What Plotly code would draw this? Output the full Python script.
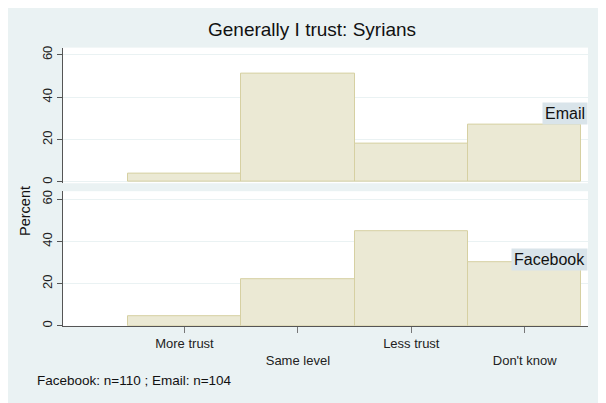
import plotly.graph_objects as go

categories = ["More trust", "Same level", "Less trust", "Don't know"]
cat_pos = [1, 2, 3, 4]
email_pct = [3.8, 51.0, 18.3, 26.9]
facebook_pct = [4.4, 22.0, 44.8, 30.0]
y_ticks = [0, 20, 40, 60]
tick_text = ["More trust", "<br>Same level", "Less trust", "<br>Don't know"]

BG = "#eaf2f3"
BAR_FILL = "#ebe9d4"
BAR_LINE = "#d6d0a2"
STRIP = "#d9e4ea"
FONT = "Liberation Sans, Arial, sans-serif"

W, H = 606, 403
OFF = 8  # page body margin in the browser

def px(x):
    return (x - OFF) / W

def py(y):
    return 1 - (y - OFF) / H

fig = go.Figure()
fig.add_trace(go.Bar(x=cat_pos, y=email_pct, width=1, xaxis="x", yaxis="y",
                     marker=dict(color=BAR_FILL, line=dict(color=BAR_LINE, width=1)),
                     name="Email", showlegend=False))
fig.add_trace(go.Bar(x=cat_pos, y=facebook_pct, width=1, xaxis="x2", yaxis="y2",
                     marker=dict(color=BAR_FILL, line=dict(color=BAR_LINE, width=1)),
                     name="Facebook", showlegend=False))

xrange = [-0.071, 4.558]
yaxis_common = dict(tickvals=y_ticks, tickangle=-90, ticks="outside", ticklen=5,
                    tickcolor="#555", showline=True, linecolor="#555", linewidth=1,
                    showgrid=True, gridcolor=BG, gridwidth=1, zeroline=False,
                    tickfont=dict(family=FONT, size=13, color="#222"))

fig.update_layout(
    width=W, height=H,
    margin=dict(l=0, r=0, t=0, b=0),
    paper_bgcolor=BG, plot_bgcolor="white",
    bargap=0,
    font=dict(family=FONT, color="#222"),
    xaxis=dict(domain=[px(63), px(588)], range=xrange, anchor="y",
               showticklabels=False, ticks="", showline=False, showgrid=False,
               zeroline=False),
    yaxis=dict(domain=[py(183), py(46)], range=[-0.6, 63.4], anchor="x", **yaxis_common),
    xaxis2=dict(domain=[px(63), px(588)], range=xrange, anchor="y2",
                tickvals=cat_pos, ticktext=tick_text, ticks="outside", ticklen=6,
                tickcolor="#777", showline=True, linecolor="#555", linewidth=1,
                showgrid=False, zeroline=False, tickangle=0,
                tickfont=dict(family=FONT, size=13, color="#222")),
    yaxis2=dict(domain=[py(327), py(191)], range=[0, 63.8], anchor="x2", **yaxis_common),
)

fig.add_annotation(text="Generally I trust: Syrians", xref="paper", yref="paper",
                   x=px(312), y=py(28), xanchor="center", yanchor="middle",
                   showarrow=False, font=dict(family=FONT, size=19, color="#111"))
fig.add_annotation(text="Percent", xref="paper", yref="paper",
                   x=px(25), y=py(211), textangle=-90, xanchor="center", yanchor="middle",
                   showarrow=False, font=dict(family=FONT, size=14.5, color="#111"))
fig.add_annotation(text="Facebook: n=110 ; Email: n=104", xref="paper", yref="paper",
                   x=px(35), y=py(382), xanchor="left", yanchor="middle",
                   showarrow=False, font=dict(family=FONT, size=13.5, color="#111"))
fig.add_annotation(text="Email", xref="paper", yref="paper",
                   x=px(588), y=py(113), xanchor="right", yanchor="middle",
                   showarrow=False, bgcolor=STRIP, borderpad=2,
                   font=dict(family=FONT, size=16, color="#111"))
fig.add_annotation(text="Facebook", xref="paper", yref="paper",
                   x=px(588), y=py(259.5), xanchor="right", yanchor="middle",
                   showarrow=False, bgcolor=STRIP, borderpad=2,
                   font=dict(family=FONT, size=16, color="#111"))

fig.write_html("out.html")
